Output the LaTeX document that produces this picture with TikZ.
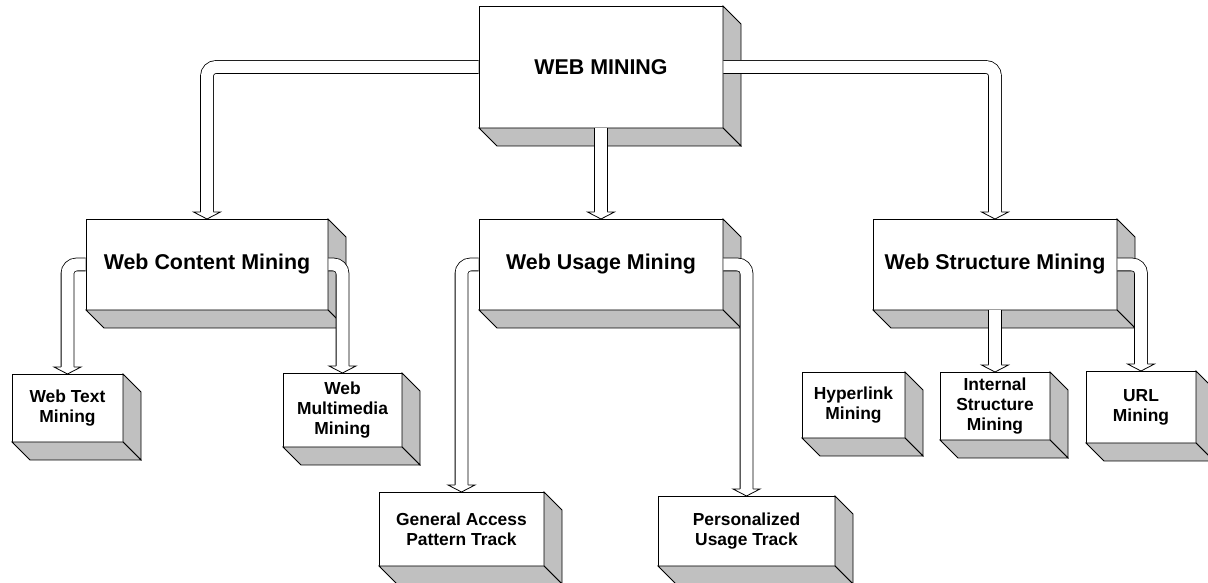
\documentclass[tikz,border=0pt]{standalone}
\usepackage{fontspec}
\setmainfont{Liberation Sans}
\usepackage{tikz}
\definecolor{sidegray}{RGB}{192,192,192}
\tikzstyle{box} = [draw,fill=white,rectangle,line width=.8pt,inner sep=0pt,outer sep=0pt,align=center]
\tikzstyle{big box} = [box,font=\fontsize{21.4}{25}\selectfont\bfseries]
\tikzstyle{small box} = [box,font=\fontsize{17.4}{20}\selectfont\bfseries]
\tikzstyle{side} = [draw,fill=sidegray,line width=.8pt,line join=miter]
\tikzstyle{straight pipe} = [draw,line width=.8pt,double=white,double distance=12pt,shorten >=7pt,shorten <=.4pt]
\tikzstyle{pipe} = [straight pipe,rounded corners=9pt]
\newcommand{\openhead}[1]{%
  \filldraw[fill=white,line width=.8pt,line join=miter] ([shift={(-6.4,7)}]#1) -- ++(-7.1,0) -- (#1) -- ([shift={(13.5,7)}]#1) -- ++(-7.1,0);}

\begin{document}
\begin{tikzpicture}[x=1pt,y=1pt]
        \useasboundingbox (0,0) rectangle (1208,583);
        % top and middle level
        \node[big box,minimum width=244,minimum height=122] (wm) at (601,516) {WEB MINING};
        \node[big box,minimum width=242,minimum height=91] (wcm) at (207,318.5) {Web Content Mining};
        \node[big box,minimum width=244,minimum height=91] (wum) at (601,318.5) {Web Usage Mining};
        \node[big box,minimum width=244,minimum height=91] (wsm) at (995,318.5) {Web Structure Mining};
        % bottom level
        \node[small box,minimum width=111,minimum height=68] (wtm) at (67.5,175) {Web Text\\Mining};
        \node[small box,minimum width=119,minimum height=74] (wmm) at (342.5,173) {Web\\Multimedia\\Mining};
        \node[small box,minimum width=165,minimum height=74] (gapt) at (461.5,54) {General Access\\Pattern Track};
        \node[small box,minimum width=177,minimum height=70] (put) at (746.5,52) {Personalized\\Usage Track};
        \node[small box,minimum width=103,minimum height=66] (hm) at (853.5,178) {Hyperlink\\Mining};
        \node[small box,minimum width=110,minimum height=68] (ism) at (995,177) {Internal\\Structure\\Mining};
        \node[small box,minimum width=110,minimum height=72] (url) at (1141,176) {URL\\Mining};
        \foreach \n in {wm,wcm,wum,wsm,wtm,wmm,gapt,put,hm,ism,url} {
          \draw[side] (\n.north east) -- ++(18,-18) -- ([shift={(18,-18)}]\n.south east) -- (\n.south east) -- cycle;
          \draw[side] (\n.south west) -- (\n.south east) -- ++(18,-18) -- ([shift={(18,-18)}]\n.south west) -- cycle;
        }
        \draw[pipe] (wm.west) -| (wcm.north); \openhead{wcm.north}
        \draw[straight pipe] (wm.south) -- (wum.north); \openhead{wum.north}
        \draw[pipe] (wm.east) -| (wsm.north); \openhead{wsm.north}
        \draw[pipe] (wcm.west) -| (wtm.north); \openhead{wtm.north}
        \draw[pipe] (wcm.east) -| (wmm.north); \openhead{wmm.north}
        \draw[pipe] (wum.west) -| (gapt.north); \openhead{gapt.north}
        \draw[pipe] (wum.east) -| (put.north); \openhead{put.north}
        \draw[straight pipe] (wsm.south) -- (ism.north); \openhead{ism.north}
        \draw[pipe] (wsm.east) -| (url.north); \openhead{url.north}
      \end{tikzpicture}
\end{document}
